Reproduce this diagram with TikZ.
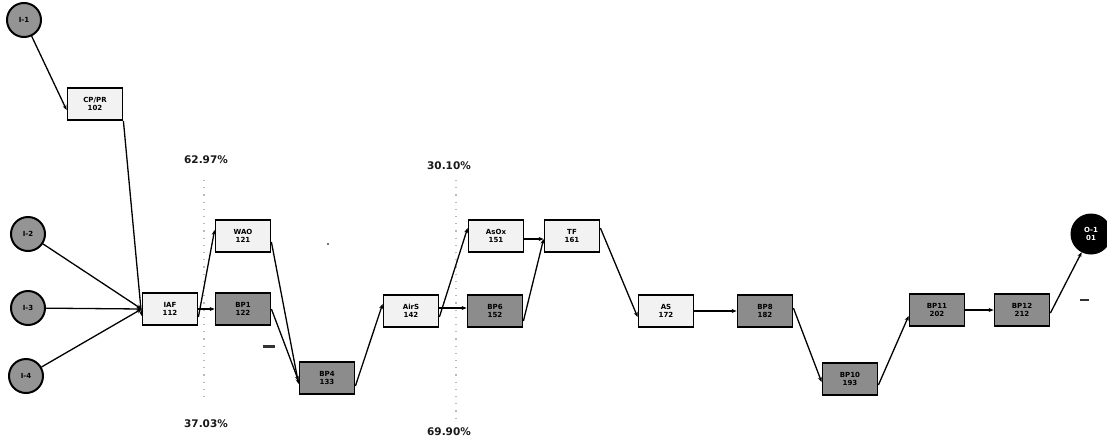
\documentclass[tikz,border=0pt]{standalone}
\usepackage{fontspec}
\setmainfont{DejaVu Sans}
\usetikzlibrary{arrows.meta}
\begin{document}
\begin{tikzpicture}[x=1pt,y=-1pt,
  wbox/.style={draw, line width=1.8pt, fill=gray!10, minimum width=55pt, minimum height=32pt,
    font=\bfseries\fontsize{7}{8.5}\selectfont, align=center, inner sep=1pt},
  gbox/.style={wbox, fill=black!45},
  inc/.style={circle, draw, line width=2pt, fill=black!42, minimum size=34pt, inner sep=0pt,
    font=\bfseries\fontsize{7}{8.5}\selectfont},
  outc/.style={circle, draw, line width=1pt, fill=black, text=white, minimum size=40pt, inner sep=0pt,
    font=\bfseries\fontsize{7}{8.5}\selectfont, align=center},
  conn/.style={-{Stealth[length=5pt,width=4pt]}, line width=1.3pt},
  pct/.style={font=\bfseries\fontsize{10.5}{12}\selectfont, text=black!90},
  guide/.style={gray!55, line width=1.2pt, dash pattern=on 1.2pt off 6pt}
]
\useasboundingbox (0,0) rectangle (1107,442);
% guide lines
\coordinate (g1t) at (204,180); \coordinate (g1b) at (204,400);
\coordinate (g2t) at (456,180); \coordinate (g2b) at (456,420);
\draw[guide] (g1t) -- (g1b);
\draw[guide] (g2t) -- (g2b);
\node[pct] (p1) at (206,160) {62.97\%};
\node[pct] (p2) at (449,166) {30.10\%};
\node[pct] (p3) at (206,424) {37.03\%};
\node[pct] (p4) at (449,432) {69.90\%};
% inputs
\node[inc] (i1) at (24,20) {I-1};
\node[inc] (i2) at (28,234) {I-2};
\node[inc] (i3) at (28,308) {I-3};
\node[inc] (i4) at (26,376) {I-4};
% boxes
\node[wbox] (cp) at (95,104) {CP/PR\\102};
\node[wbox] (iaf) at (170,309) {IAF\\112};
\node[wbox] (wao) at (243,236) {WAO\\121};
\node[gbox] (bp1) at (243,309) {BP1\\122};
\node[gbox] (bp4) at (327,378) {BP4\\133};
\node[wbox] (airs) at (411,311) {AirS\\142};
\node[wbox] (asox) at (496,236) {AsOx\\151};
\node[gbox] (bp6) at (495,311) {BP6\\152};
\node[wbox] (tf) at (572,236) {TF\\161};
\node[wbox] (as) at (666,311) {AS\\172};
\node[gbox] (bp8) at (765,311) {BP8\\182};
\node[gbox] (bp10) at (850,379) {BP10\\193};
\node[gbox] (bp11) at (937,310) {BP11\\202};
\node[gbox] (bp12) at (1022,310) {BP12\\212};
\node[outc] (o1) at (1091,234) {O-1\\01};
% connectors
\draw[conn] (i1) -- ([yshift=-6pt]cp.west);
\draw[conn] (cp.south east) -- ([yshift=-7pt]iaf.west);
\draw[conn] (i2) -- (iaf.west);
\draw[conn] (i3) -- (iaf.west);
\draw[conn] (i4) -- (iaf.west);
\draw[conn] ([yshift=-8pt]iaf.east) -- ([yshift=6pt]wao.west);
\draw[conn] (iaf.east) -- (bp1.west);
\draw[conn] ([yshift=-6pt]wao.east) -- ([yshift=-6pt]bp4.west);
\draw[conn] (bp1.east) -- ([yshift=-3pt]bp4.west);
\draw[conn] ([yshift=-8pt]bp4.east) -- ([yshift=7pt]airs.west);
\draw[conn] ([yshift=-6pt]airs.east) -- ([yshift=8pt]asox.west);
\draw[conn] ([yshift=3pt]airs.east) -- ([yshift=3pt]bp6.west);
\draw[conn] ([yshift=-3pt]asox.east) -- ([yshift=-3pt]tf.west);
\draw[conn] ([yshift=-10pt]bp6.east) -- ([yshift=-3pt]tf.west);
\draw[conn] ([yshift=8pt]tf.east) -- ([yshift=-6pt]as.west);
\draw[conn] (as.east) -- (bp8.west);
\draw[conn] ([yshift=3pt]bp8.east) -- ([yshift=-3pt]bp10.west);
\draw[conn] ([yshift=-6pt]bp10.east) -- ([yshift=-6pt]bp11.west);
\draw[conn] (bp11.east) -- (bp12.west);
\draw[conn] ([yshift=-3pt]bp12.east) -- (o1);
% scan marks
\fill[black!80] (263,345) rectangle (275,347.5);
\fill[black!80] (1080,299) rectangle (1089,301);
\fill[black!70] (328,244) circle (1.2pt);
\end{tikzpicture}
\end{document}
